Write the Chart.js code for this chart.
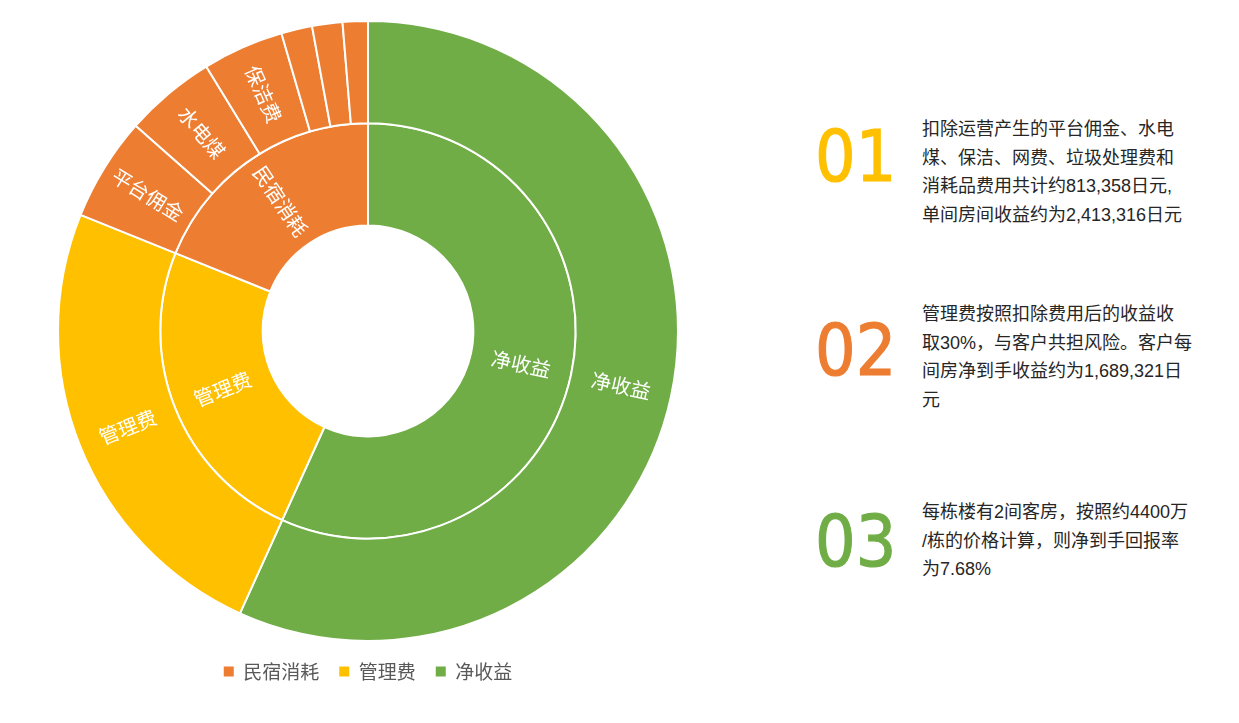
<!DOCTYPE html>
<html>
<head>
<meta charset="utf-8">
<script src="https://cdn.jsdelivr.net/npm/chart.js@4"></script>
<style>
  body { margin: 0; background: #fff; width: 1239px; height: 723px; overflow: hidden; position: relative;
         font-family: "Liberation Sans", "Noto Sans CJK SC", sans-serif; }
  #wrap { position: absolute; left: 0; top: 0; width: 736px; height: 723px; }
  .num { position: absolute; left: 815px; font-size: 71px; line-height: 72px; font-family: "DejaVu Sans", sans-serif;
         transform: scaleX(0.9); transform-origin: left top; -webkit-text-stroke: 1.2px currentColor; }
  .txt { position: absolute; left: 922px; font-size: 18px; line-height: 28.7px; color: #262626;
         font-family: "Liberation Sans", "Noto Sans CJK SC", sans-serif; white-space: nowrap; }
</style>
</head>
<body>
<div id="wrap"><canvas id="sun"></canvas></div>

<div class="num" style="top:121px;color:#FFC000">01</div>
<div class="txt" style="top:115px">扣除运营产生的平台佣金、水电<br>煤、保洁、网费、垃圾处理费和<br>消耗品费用共计约813,358日元,<br>单间房间收益约为2,413,316日元</div>

<div class="num" style="top:315px;color:#ED7D31">02</div>
<div class="txt" style="top:300px">管理费按照扣除费用后的收益收<br>取30%，与客户共担风险。客户每<br>间房净到手收益约为1,689,321日<br>元</div>

<div class="num" style="top:506px;color:#70AD47">03</div>
<div class="txt" style="top:498px">每栋楼有2间客房，按照约4400万<br>/栋的价格计算，则净到手回报率<br>为7.68%</div>

<script>
// inner ring (clockwise from 12 o'clock)
const innerLabels = ['净收益', '管理费', '民宿消耗'];
const innerValues = [1689321, 723995, 562000];
const innerColors = ['#70AD47', '#FFC000', '#ED7D31'];

// outer ring, 民宿消耗 split into its parts
const outerLabels = ['净收益', '管理费', '平台佣金', '水电煤', '保洁费', '网费', '垃圾处理费', '消耗品'];
const outerValues = [1689321, 723995, 161000, 141000, 126000, 48000, 47000, 39000];
const outerColors = ['#70AD47', '#FFC000', '#ED7D31', '#ED7D31', '#ED7D31', '#ED7D31', '#ED7D31', '#ED7D31'];
const outerShown = [true, true, true, true, true, false, false, false];

// legend order as in the picture
const legendNames = ['民宿消耗', '管理费', '净收益'];
const legendColors = ['#ED7D31', '#FFC000', '#70AD47'];

const sliceLabels = {
    id: 'sliceLabels',
    afterDatasetsDraw(chart) {
        const ctx = chart.ctx;
        ctx.save();
        ctx.fillStyle = '#fff';
        ctx.font = '20px "Noto Sans CJK SC", sans-serif';
        ctx.textAlign = 'center';
        ctx.textBaseline = 'middle';
        chart.data.datasets.forEach((ds, di) => {
            const meta = chart.getDatasetMeta(di);
            meta.data.forEach((arc, i) => {
                if (ds.shown && !ds.shown[i]) return;
                const p = arc.getProps(['x', 'y', 'startAngle', 'endAngle', 'innerRadius', 'outerRadius'], true);
                const mid = (p.startAngle + p.endAngle) / 2;
                const r = (p.innerRadius + p.outerRadius) / 2;
                let rot = mid;
                if (Math.cos(mid) < 0) rot += Math.PI;
                ctx.save();
                ctx.translate(p.x + Math.cos(mid) * r, p.y + Math.sin(mid) * r);
                ctx.rotate(rot);
                ctx.fillText(ds.names[i], 0, 0);
                ctx.restore();
            });
        });
        ctx.restore();
    }
};

new Chart(document.getElementById('sun'), {
    type: 'doughnut',
    data: {
        labels: outerLabels,
        datasets: [{
            data: outerValues,
            names: outerLabels,
            shown: outerShown,
            backgroundColor: outerColors,
            borderColor: '#fff',
            borderWidth: 2,
        }, {
            data: innerValues,
            names: innerLabels,
            backgroundColor: innerColors,
            borderColor: '#fff',
            borderWidth: 2,
        }],
    },
    options: {
        responsive: true,
        maintainAspectRatio: false,
        animation: false,
        cutout: '34%',
        layout: { padding: { top: 20, bottom: 32 } },
        plugins: {
            legend: {
                position: 'bottom',
                onClick: null,
                labels: {
                    color: '#595959',
                    font: { family: '"Noto Sans CJK SC", sans-serif', size: 19 },
                    boxWidth: 10,
                    boxHeight: 10,
                    padding: 20,
                    generateLabels: () => legendNames.map((n, i) => ({
                        text: n,
                        fillStyle: legendColors[i],
                        strokeStyle: legendColors[i],
                        lineWidth: 0,
                        fontColor: '#595959',
                        hidden: false,
                        index: i,
                    })),
                },
            },
            tooltip: { enabled: false },
        },
    },
    plugins: [sliceLabels],
});
</script>
</body>
</html>
